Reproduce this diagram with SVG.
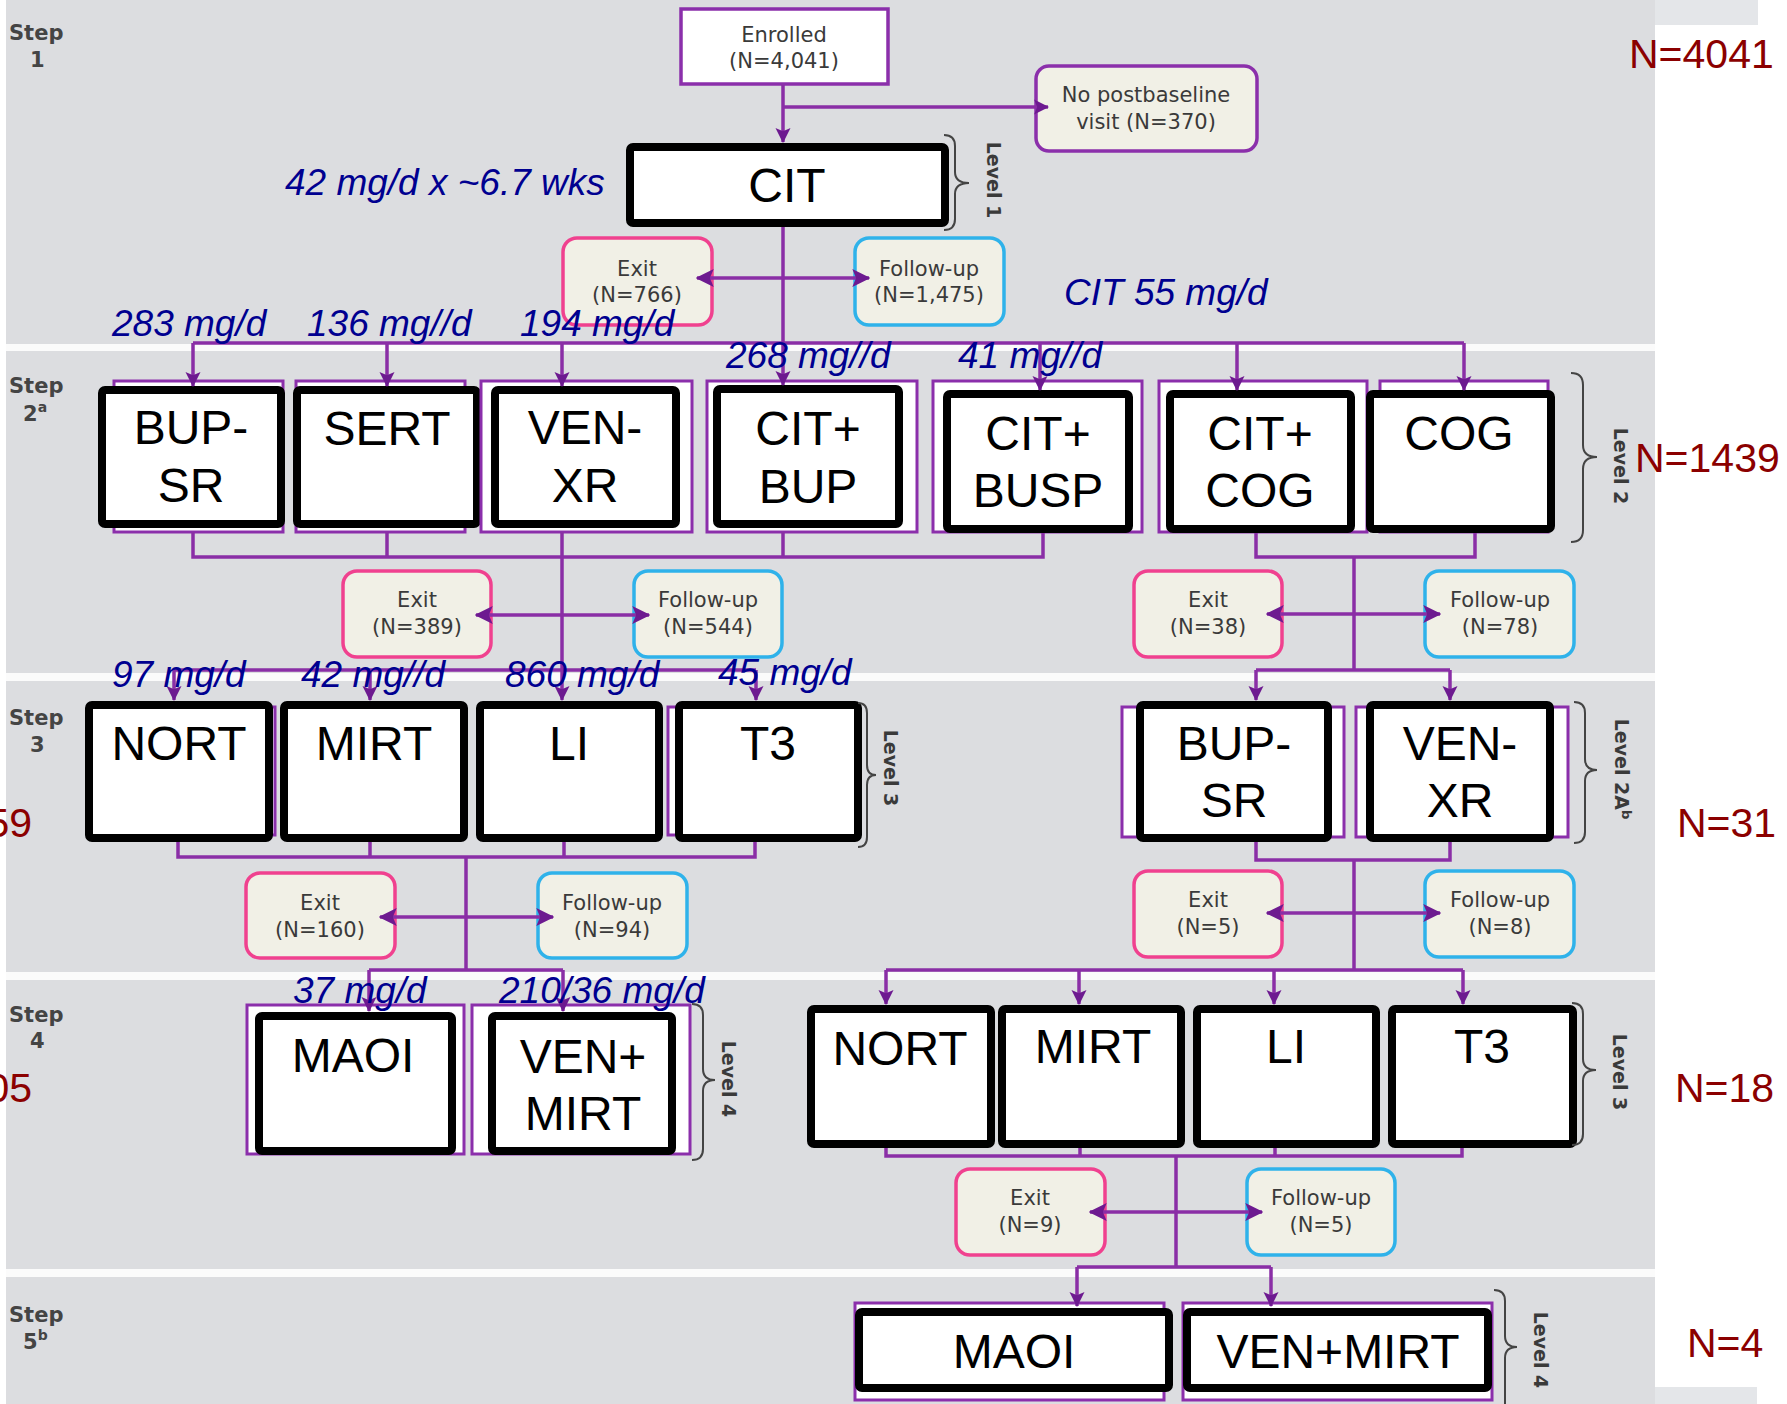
<svg xmlns="http://www.w3.org/2000/svg" width="1787" height="1404" viewBox="0 0 1787 1404">
<style>
.bg{fill:#dcdde0}
.band{fill:#fbfbfb}
.lt{fill:#e4e6e9}
.box{fill:#fff;stroke:#000;stroke-width:8}
.pbox{fill:#fff;stroke:#8b2fab;stroke-width:3}
.bt{font-family:"Liberation Sans",Arial,sans-serif;font-size:48px;fill:#000;text-anchor:middle}
.exit{fill:#f1f0e6;stroke:#f0418f;stroke-width:3.5}
.fu{fill:#f1f0e6;stroke:#2fb2ea;stroke-width:3.5}
.enr{fill:#fff;stroke:#8b2fab;stroke-width:3.5}
.np{fill:#f1f0e6;stroke:#8b2fab;stroke-width:3.5}
.st{font-family:"DejaVu Sans",sans-serif;font-size:21px;fill:#3a3a3a;text-anchor:middle}
.step{font-family:"DejaVu Sans",sans-serif;font-weight:bold;font-size:21px;fill:#444}
.lvl{font-family:"DejaVu Sans",sans-serif;font-weight:bold;font-size:19px;fill:#3a3a3a;text-anchor:middle}
.brace{fill:none;stroke:#444;stroke-width:2}
.dose{font-family:"Liberation Sans",Arial,sans-serif;font-style:italic;font-size:37px;fill:#000090}
.n{font-family:"Liberation Sans",Arial,sans-serif;font-size:41px;fill:#8b0000}
.ln{fill:none;stroke:#8a2ea6;stroke-width:3.5}
.ar{marker-end:url(#ah)}
.bi{marker-start:url(#ah2);marker-end:url(#ah2)}
</style>
<defs>
<marker id="ah" viewBox="0 0 14 14" refX="13" refY="7" markerWidth="15" markerHeight="16" markerUnits="userSpaceOnUse" orient="auto-start-reverse"><path d="M0,0 L14,7 L0,14 L3,7 z" fill="#6d1a90"/></marker>
<marker id="ah2" viewBox="0 0 14 14" refX="13" refY="7" markerWidth="18" markerHeight="20" markerUnits="userSpaceOnUse" orient="auto-start-reverse"><path d="M0,0 L14,7 L0,14 L3,7 z" fill="#6d1a90"/></marker>
</defs>

<g id="background">
<rect class="bg" x="6" y="0" width="1649" height="1404"/>
<rect class="band" x="6" y="344" width="1649" height="7"/>
<rect class="band" x="6" y="673" width="1649" height="8"/>
<rect class="band" x="6" y="972" width="1649" height="8"/>
<rect class="band" x="6" y="1269" width="1649" height="8"/>
<rect class="lt" x="1655" y="0" width="103" height="25"/>
<rect class="lt" x="1655" y="1387" width="102" height="17"/>
</g>

<g id="step-labels">
<text class="step" x="9" y="40">Step</text><text class="step" x="30" y="67">1</text>
<text class="step" x="9" y="393">Step</text><text class="step" x="23" y="421">2<tspan font-size="14" dy="-9">a</tspan></text>
<text class="step" x="9" y="725">Step</text><text class="step" x="30" y="752">3</text>
<text class="step" x="9" y="1022">Step</text><text class="step" x="30" y="1048">4</text>
<text class="step" x="9" y="1322">Step</text><text class="step" x="23" y="1349">5<tspan font-size="14" dy="-9">b</tspan></text>
</g>

<g id="n-enrolled"><rect class="enr" x="681" y="9" width="207" height="75"/><text class="st" x="784" y="42">Enrolled</text><text class="st" x="784" y="68">(N=4,041)</text></g>
<g id="n-nopost"><rect class="np" x="1036" y="66" width="221" height="85" rx="13"/><text class="st" x="1146" y="102">No postbaseline</text><text class="st" x="1146" y="129">visit (N=370)</text></g>
<g id="n-cit"><rect class="box" x="630" y="147" width="315" height="76" rx="3"/><text class="bt" x="787" y="202">CIT</text></g>
<g id="n-exit1"><rect class="exit" x="563" y="238" width="149" height="87" rx="14"/><text class="st" x="637" y="276">Exit</text><text class="st" x="637" y="302">(N=766)</text></g>
<g id="n-fu1"><rect class="fu" x="855" y="238" width="149" height="87" rx="14"/><text class="st" x="929" y="276">Follow-up</text><text class="st" x="929" y="302">(N=1,475)</text></g>

<g id="n-s2-bupsr"><rect class="pbox" x="114" y="381" width="169" height="151"/><rect class="box" x="102" y="390" width="179" height="134" rx="3"/><text class="bt" x="191" y="444">BUP-</text><text class="bt" x="191" y="502">SR</text></g>
<g id="n-s2-sert"><rect class="pbox" x="296" y="381" width="169" height="151"/><rect class="box" x="297" y="390" width="180" height="134" rx="3"/><text class="bt" x="387" y="445">SERT</text></g>
<g id="n-s2-venxr"><rect class="pbox" x="481" y="381" width="211" height="151"/><rect class="box" x="495" y="390" width="181" height="134" rx="3"/><text class="bt" x="585" y="444">VEN-</text><text class="bt" x="585" y="502">XR</text></g>
<g id="n-s2-citbup"><rect class="pbox" x="707" y="381" width="210" height="151"/><rect class="box" x="717" y="389" width="182" height="135" rx="3"/><text class="bt" x="808" y="445">CIT+</text><text class="bt" x="808" y="503">BUP</text></g>
<g id="n-s2-citbusp"><rect class="pbox" x="933" y="381" width="209" height="151"/><rect class="box" x="947" y="394" width="182" height="135" rx="3"/><text class="bt" x="1038" y="450">CIT+</text><text class="bt" x="1038" y="507">BUSP</text></g>
<g id="n-s2-citcog"><rect class="pbox" x="1159" y="381" width="208" height="151"/><rect class="box" x="1170" y="394" width="181" height="135" rx="3"/><text class="bt" x="1260" y="450">CIT+</text><text class="bt" x="1260" y="507">COG</text></g>
<g id="n-s2-cog"><rect class="pbox" x="1380" y="381" width="168" height="151"/><rect class="box" x="1370" y="394" width="181" height="135" rx="3"/><text class="bt" x="1459" y="450">COG</text></g>

<g id="n-exit2"><rect class="exit" x="343" y="571" width="148" height="86" rx="14"/><text class="st" x="417" y="607">Exit</text><text class="st" x="417" y="634">(N=389)</text></g>
<g id="n-fu2"><rect class="fu" x="634" y="571" width="148" height="86" rx="14"/><text class="st" x="708" y="607">Follow-up</text><text class="st" x="708" y="634">(N=544)</text></g>
<g id="n-exit3"><rect class="exit" x="1134" y="571" width="148" height="86" rx="14"/><text class="st" x="1208" y="607">Exit</text><text class="st" x="1208" y="634">(N=38)</text></g>
<g id="n-fu3"><rect class="fu" x="1425" y="571" width="149" height="86" rx="14"/><text class="st" x="1500" y="607">Follow-up</text><text class="st" x="1500" y="634">(N=78)</text></g>

<g id="n-s3-nort"><rect class="pbox" x="100" y="707" width="175" height="128"/><rect class="box" x="89" y="705" width="180" height="133" rx="3"/><text class="bt" x="179" y="760">NORT</text></g>
<g id="n-s3-mirt"><rect class="box" x="284" y="705" width="180" height="133" rx="3"/><text class="bt" x="374" y="760">MIRT</text></g>
<g id="n-s3-li"><rect class="box" x="480" y="705" width="179" height="133" rx="3"/><text class="bt" x="569" y="760">LI</text></g>
<g id="n-s3-t3"><rect class="pbox" x="668" y="707" width="182" height="128"/><rect class="box" x="679" y="705" width="179" height="133" rx="3"/><text class="bt" x="768" y="760">T3</text></g>
<g id="n-s3-bupsr"><rect class="pbox" x="1122" y="707" width="222" height="130"/><rect class="box" x="1140" y="705" width="188" height="133" rx="3"/><text class="bt" x="1234" y="760">BUP-</text><text class="bt" x="1234" y="817">SR</text></g>
<g id="n-s3-venxr"><rect class="pbox" x="1356" y="707" width="212" height="130"/><rect class="box" x="1370" y="705" width="180" height="133" rx="3"/><text class="bt" x="1460" y="760">VEN-</text><text class="bt" x="1460" y="817">XR</text></g>

<g id="n-exit4"><rect class="exit" x="246" y="873" width="149" height="85" rx="14"/><text class="st" x="320" y="910">Exit</text><text class="st" x="320" y="937">(N=160)</text></g>
<g id="n-fu4"><rect class="fu" x="538" y="873" width="149" height="85" rx="14"/><text class="st" x="612" y="910">Follow-up</text><text class="st" x="612" y="937">(N=94)</text></g>
<g id="n-exit5"><rect class="exit" x="1134" y="871" width="148" height="86" rx="14"/><text class="st" x="1208" y="907">Exit</text><text class="st" x="1208" y="934">(N=5)</text></g>
<g id="n-fu5"><rect class="fu" x="1425" y="871" width="149" height="86" rx="14"/><text class="st" x="1500" y="907">Follow-up</text><text class="st" x="1500" y="934">(N=8)</text></g>

<g id="n-s4-maoi"><rect class="pbox" x="247" y="1005" width="217" height="149"/><rect class="box" x="259" y="1016" width="193" height="135" rx="3"/><text class="bt" x="353" y="1072">MAOI</text></g>
<g id="n-s4-venmirt"><rect class="pbox" x="472" y="1005" width="218" height="149"/><rect class="box" x="492" y="1016" width="180" height="135" rx="3"/><text class="bt" x="583" y="1073">VEN+</text><text class="bt" x="583" y="1130">MIRT</text></g>
<g id="n-s4-nort"><rect class="box" x="811" y="1009" width="180" height="135" rx="3"/><text class="bt" x="900" y="1065">NORT</text></g>
<g id="n-s4-mirt"><rect class="box" x="1002" y="1009" width="179" height="135" rx="3"/><text class="bt" x="1093" y="1063">MIRT</text></g>
<g id="n-s4-li"><rect class="box" x="1197" y="1009" width="179" height="135" rx="3"/><text class="bt" x="1286" y="1063">LI</text></g>
<g id="n-s4-t3"><rect class="box" x="1392" y="1009" width="181" height="135" rx="3"/><text class="bt" x="1482" y="1063">T3</text></g>

<g id="n-exit6"><rect class="exit" x="956" y="1169" width="149" height="86" rx="14"/><text class="st" x="1030" y="1205">Exit</text><text class="st" x="1030" y="1232">(N=9)</text></g>
<g id="n-fu6"><rect class="fu" x="1247" y="1169" width="148" height="86" rx="14"/><text class="st" x="1321" y="1205">Follow-up</text><text class="st" x="1321" y="1232">(N=5)</text></g>

<g id="n-s5-maoi"><rect class="pbox" x="855" y="1303" width="309" height="97"/><rect class="box" x="859" y="1312" width="310" height="76" rx="3"/><text class="bt" x="1014" y="1368">MAOI</text></g>
<g id="n-s5-venmirt"><rect class="pbox" x="1183" y="1303" width="309" height="97"/><rect class="box" x="1187" y="1312" width="301" height="76" rx="3"/><text class="bt" x="1338" y="1368">VEN+MIRT</text></g>

<g id="connectors">
<path class="ln ar" d="M783,85 V142"/>
<path class="ln ar" d="M783,107 H1048"/>
<path class="ln" d="M783,227 V343"/>
<path class="ln bi" d="M697,278 H869"/>
<path class="ln" d="M193,343 H1464"/>
<path class="ln ar" d="M193,343 V386"/>
<path class="ln ar" d="M387,343 V386"/>
<path class="ln ar" d="M562,343 V386"/>
<path class="ln ar" d="M783,343 V385"/>
<path class="ln ar" d="M1040,343 V390"/>
<path class="ln ar" d="M1237,343 V390"/>
<path class="ln ar" d="M1464,343 V390"/>
<path class="ln" d="M193,532 V557 H1043 V533"/>
<path class="ln" d="M387,532 V557"/>
<path class="ln" d="M783,532 V557"/>
<path class="ln" d="M562,532 V670"/>
<path class="ln bi" d="M476,615 H649"/>
<path class="ln" d="M174,670 H756"/>
<path class="ln ar" d="M174,670 V700"/>
<path class="ln ar" d="M370,670 V700"/>
<path class="ln ar" d="M562,670 V700"/>
<path class="ln ar" d="M756,670 V700"/>
<path class="ln" d="M1256,533 V557 H1475 V533"/>
<path class="ln" d="M1354,557 V670"/>
<path class="ln bi" d="M1267,614 H1440"/>
<path class="ln" d="M1256,670 H1450"/>
<path class="ln ar" d="M1256,670 V700"/>
<path class="ln ar" d="M1450,670 V700"/>
<path class="ln" d="M178,842 V857 H755 V842"/>
<path class="ln" d="M370,842 V857"/>
<path class="ln" d="M564,842 V857"/>
<path class="ln" d="M466,857 V970"/>
<path class="ln bi" d="M380,917 H553"/>
<path class="ln" d="M369,970 H563"/>
<path class="ln ar" d="M369,970 V1011"/>
<path class="ln ar" d="M563,970 V1011"/>
<path class="ln" d="M1256,842 V860 H1450 V842"/>
<path class="ln" d="M1354,860 V970"/>
<path class="ln bi" d="M1267,913 H1440"/>
<path class="ln" d="M886,970 H1463"/>
<path class="ln ar" d="M886,970 V1004"/>
<path class="ln ar" d="M1079,970 V1004"/>
<path class="ln ar" d="M1274,970 V1004"/>
<path class="ln ar" d="M1463,970 V1004"/>
<path class="ln" d="M886,1148 V1156 H1462 V1148"/>
<path class="ln" d="M1080,1148 V1156"/>
<path class="ln" d="M1275,1148 V1156"/>
<path class="ln" d="M1176,1156 V1267"/>
<path class="ln bi" d="M1090,1212 H1262"/>
<path class="ln" d="M1077,1267 H1271"/>
<path class="ln ar" d="M1077,1267 V1306"/>
<path class="ln ar" d="M1271,1267 V1306"/>
</g>

<g id="levels">
<path class="brace" d="M944,135 Q955,135 955,146 L955,172 Q955,183 969,183 Q955,183 955,194 L955,219 Q955,230 944,230"/>
<text class="lvl" transform="translate(994,180) rotate(90)" y="7">Level 1</text>
<path class="brace" d="M1571,373 Q1583,373 1583,385 L1583,445 Q1583,457 1597,457 Q1583,457 1583,469 L1583,530 Q1583,542 1571,542"/>
<text class="lvl" transform="translate(1621,466) rotate(90)" y="7">Level 2</text>
<path class="brace" d="M858,703 Q867,703 867,713 L867,765 Q867,775 876,775 Q867,775 867,785 L867,837 Q867,847 858,847"/>
<text class="lvl" transform="translate(891,768) rotate(90)" y="7">Level 3</text>
<path class="brace" d="M1574,702 Q1585,702 1585,713 L1585,759 Q1585,770 1597,770 Q1585,770 1585,781 L1585,832 Q1585,843 1574,843"/>
<text class="lvl" transform="translate(1622,769) rotate(90)" y="7">Level 2A<tspan font-size="13" dy="-7">b</tspan></text>
<path class="brace" d="M692,1004 Q703,1004 703,1015 L703,1069 Q703,1080 715,1080 Q703,1080 703,1091 L703,1149 Q703,1160 692,1160"/>
<text class="lvl" transform="translate(729,1079) rotate(90)" y="7">Level 4</text>
<path class="brace" d="M1572,1003 Q1583,1003 1583,1014 L1583,1059 Q1583,1070 1596,1070 Q1583,1070 1583,1081 L1583,1134 Q1583,1145 1572,1145"/>
<text class="lvl" transform="translate(1620,1072) rotate(90)" y="7">Level 3</text>
<path class="brace" d="M1494,1290 Q1505,1290 1505,1301 L1505,1336 Q1505,1347 1517,1347 Q1505,1347 1505,1358 L1505,1404"/>
<text class="lvl" transform="translate(1541,1350) rotate(90)" y="7">Level 4</text>
</g>

<g id="doses">
<text class="dose" x="285" y="195">42 mg/d x ~6.7 wks</text>
<text class="dose" x="112" y="336">283 mg/d</text>
<text class="dose" x="307" y="336">136 mg//d</text>
<text class="dose" x="520" y="336">194 mg/d</text>
<text class="dose" x="1064" y="305">CIT 55 mg/d</text>
<text class="dose" x="726" y="368">268 mg//d</text>
<text class="dose" x="958" y="368">41 mg//d</text>
<text class="dose" x="112" y="687">97 mg/d</text>
<text class="dose" x="301" y="687">42 mg//d</text>
<text class="dose" x="505" y="687">860 mg/d</text>
<text class="dose" x="718" y="685">45 mg/d</text>
<text class="dose" x="293" y="1003">37 mg/d</text>
<text class="dose" x="499" y="1003">210/36 mg/d</text>
</g>

<g id="counts">
<text class="n" x="1629" y="68">N=4041</text>
<text class="n" x="1635" y="472">N=1439</text>
<text class="n" x="32" y="837" text-anchor="end">59</text>
<text class="n" x="1677" y="837">N=31</text>
<text class="n" x="32" y="1102" text-anchor="end">05</text>
<text class="n" x="1675" y="1102">N=18</text>
<text class="n" x="1687" y="1357">N=4</text>
</g>
</svg>
